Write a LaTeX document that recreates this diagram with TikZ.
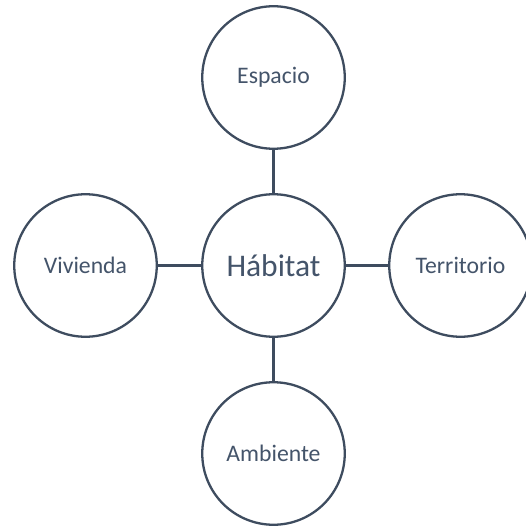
\documentclass[tikz,border=0pt]{standalone}
\usepackage{fontspec}
\setmainfont{Carlito}
\definecolor{linec}{HTML}{3E4C5F}
\definecolor{textc}{HTML}{44546A}
\begin{document}
\begin{tikzpicture}[x=1pt,y=-1pt,
  bubble/.style={circle,draw=linec,line width=2.3pt,fill=white,minimum size=142.5pt,inner sep=0pt,text=textc,font=\fontsize{23.7}{28}\selectfont},
  link/.style={draw=linec,line width=2.3pt}]
\useasboundingbox (0,0) rectangle (525,526);
\node[bubble,font=\fontsize{31.5}{36}\selectfont] (hab) at (273.5,265.5) {Hábitat};
\node[bubble] (esp) at (273.5,77.5) {Espacio};
\node[bubble] (amb) at (273.5,453.5) {Ambiente};
\node[bubble] (viv) at (85.5,265.5) {Vivienda};
\node[bubble] (ter) at (460.5,265.5) {Territorio};
\draw[link] (esp.south) -- (hab.north);
\draw[link] (hab.south) -- (amb.north);
\draw[link] (viv.east) -- (hab.west);
\draw[link] (hab.east) -- (ter.west);
\end{tikzpicture}
\end{document}
